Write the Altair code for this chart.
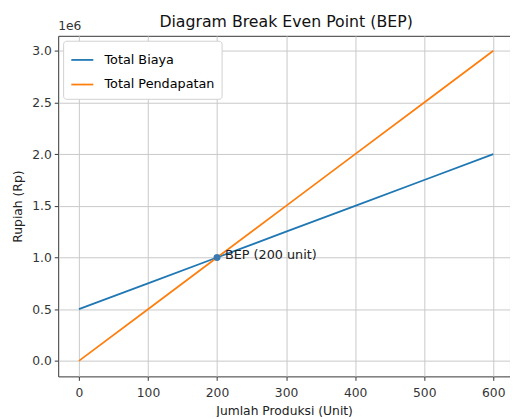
import altair as alt
import pandas as pd

produksi = [0, 100, 200, 300, 400, 500, 600]
total_biaya = [500000, 750000, 1000000, 1250000, 1500000, 1750000, 2000000]
total_pendapatan = [0, 500000, 1000000, 1500000, 2000000, 2500000, 3000000]
series_names = ["Total Biaya", "Total Pendapatan"]
series_colors = ["#1f77b4", "#ff7f0e"]
bep_unit = [200]
bep_value = [1000000]
bep_label = ["BEP (200 unit)"]
x_ticks = [0, 100, 200, 300, 400, 500, 600]
y_ticks = [0, 500000, 1000000, 1500000, 2000000, 2500000, 3000000]
chart_title = ["Diagram Break Even Point (BEP)"]
offset_label = ["1e6"]

rows = []
for x, b, p in zip(produksi, total_biaya, total_pendapatan):
    rows.append({"x": x, "y": b, "s": series_names[0]})
    rows.append({"x": x, "y": p, "s": series_names[1]})
df = pd.DataFrame(rows)
bep = pd.DataFrame({"x": bep_unit, "y": bep_value, "t": bep_label})

FONT = "DejaVu Sans"
FS = 12.5
xs = alt.Scale(domain=[-30, 624.2], nice=False, zero=False)
ys = alt.Scale(domain=[-150000, 3145000], nice=False, zero=False)

xenc = alt.X("x:Q", scale=xs, title="Jumlah Produksi (Unit)",
             axis=alt.Axis(values=x_ticks, labelFontSize=FS, titleFontSize=FS,
                           titlePadding=6, labelPadding=6, tickSize=4,
                           grid=True, format="d"))
yenc = alt.Y("y:Q", scale=ys, title="Rupiah (Rp)",
             axis=alt.Axis(values=y_ticks, labelFontSize=FS, titleFontSize=FS,
                           labelExpr="format(datum.value/1e6, '.1f')",
                           titlePadding=7, labelPadding=3, tickSize=4, grid=True))

lines = alt.Chart(df).mark_line(strokeWidth=1.8, clip=True).encode(
    x=xenc, y=yenc,
    color=alt.Color("s:N", scale=alt.Scale(domain=series_names, range=series_colors),
                    legend=alt.Legend(title=None, orient="none", legendX=5, legendY=5,
                                      symbolType="stroke", symbolStrokeWidth=1.8,
                                      symbolSize=500, labelFontSize=13,
                                      labelFont=FONT, fillColor="white",
                                      strokeColor="#d0d0d0", cornerRadius=3,
                                      padding=7, rowPadding=5, labelOffset=10)),
)

pt = alt.Chart(bep).mark_circle(size=50, color="#3a78b0", opacity=1).encode(x="x:Q", y="y:Q")
txt = alt.Chart(bep).mark_text(align="left", baseline="middle", dx=8, dy=-3,
                               fontSize=13, font=FONT, color="#222").encode(
    x="x:Q", y="y:Q", text="t:N")

offset_txt = alt.Chart(pd.DataFrame({"t": offset_label})).mark_text(
    align="left", baseline="bottom", fontSize=FS, font=FONT, color="#333").encode(
    x=alt.value(0), y=alt.value(-3), text="t:N")

title_txt = alt.Chart(pd.DataFrame({"t": chart_title})).mark_text(
    align="center", baseline="alphabetic", fontSize=16, font=FONT, color="#111").encode(
    x=alt.value(231.5), y=alt.value(-9), text="t:N")

chart = alt.layer(lines, pt, txt, offset_txt, title_txt).properties(
    width=459, height=346,
    padding={"left": 51, "top": 25, "right": 0, "bottom": 38},
    autosize=alt.AutoSizeParams(type="none"),
).configure_view(stroke="#333", strokeWidth=1).configure_axis(
    domain=False, gridColor="#c8c8c8", gridWidth=1, tickColor="#333",
    labelColor="#333", titleColor="#222", labelFont=FONT, titleFont=FONT,
    titleFontWeight="normal",
)

chart.save("out.html", embed_options={"renderer": "svg", "actions": False})
